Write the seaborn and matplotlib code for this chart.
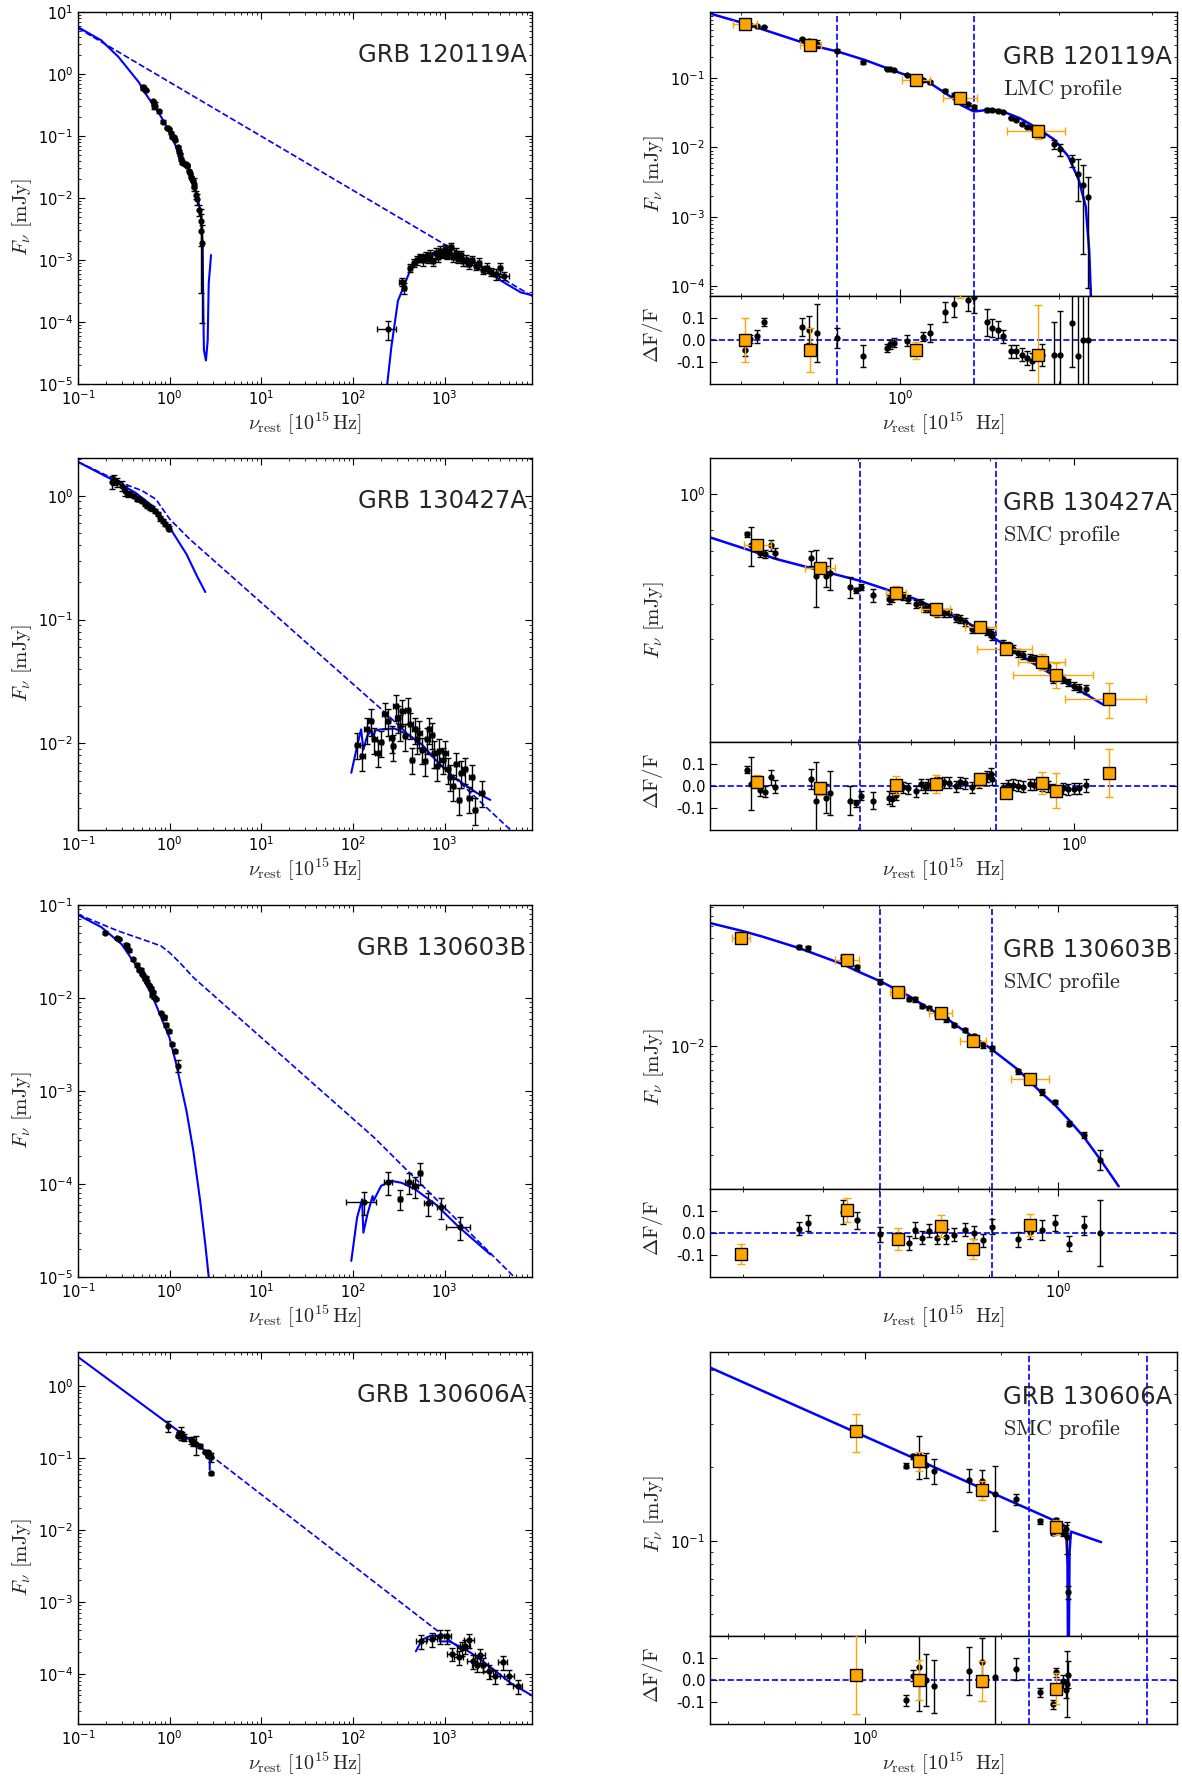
import numpy as np
import matplotlib
matplotlib.use("Agg")
import matplotlib.pyplot as plt
from matplotlib.ticker import LogLocator, NullFormatter, FormatStrFormatter
import seaborn as sns

sns.set_style("ticks")
plt.rcParams.update({
    "font.family": ["DejaVu Sans"],
    "mathtext.fontset": "cm",
    "axes.edgecolor": "k",
    "axes.linewidth": 1.0,
    "xtick.direction": "in", "ytick.direction": "in",
    "xtick.top": True, "ytick.right": True,
    "xtick.major.size": 5, "ytick.major.size": 5,
    "xtick.minor.size": 2.5, "ytick.minor.size": 2.5,
    "xtick.color": "k", "ytick.color": "k",
    "xtick.labelsize": 10.5, "ytick.labelsize": 10.5,
})

BLUE = "#0000ff"

# ---------------- GRB 120119A ----------------
r1_x = [0.509, 0.519, 0.536, 0.553, 0.652, 0.673, 0.697, 0.760, 0.852, 0.943, 0.958, 0.972,
        1.032, 1.105, 1.139, 1.219, 1.266, 1.345, 1.380, 1.462, 1.495, 1.530, 1.565, 1.624,
        1.662, 1.700, 1.739, 1.779, 1.862, 1.962, 2.007, 2.116, 2.175, 2.224, 2.273]
r1_y = [0.6, 0.59, 0.56, 0.55, 0.366, 0.339, 0.31, 0.25, 0.17, 0.136, 0.135, 0.13,
        0.112, 0.095, 0.087, 0.066, 0.057, 0.042, 0.038, 0.035, 0.035, 0.034, 0.033, 0.027,
        0.025, 0.022, 0.02, 0.019, 0.015, 0.0112, 0.0095, 0.0065, 0.0042, 0.0029, 0.0019]
r1_err = [0.03, 0.02, 0.03, 0.02, 0.04, 0.06, 0.13, 0.045, 0.05, 0.02, 0.02, 0.02,
          0.025, 0.02, 0.04, 0.045, 0.06, 0.05, 0.07, 0.06, 0.04, 0.04, 0.03, 0.03,
          0.03, 0.03, 0.03, 0.04, 0.05, 0.15, 0.2, 0.2, 0.6, 0.9, 0.95]
r1_res = [-0.044, 0.005, 0.017, 0.082, 0.06, 0.047, 0.032, 0.01, -0.074, -0.036, -0.02, -0.013,
          -0.003, 0.015, 0.032, 0.127, 0.165, 0.18, 0.195, 0.08, 0.055, 0.047, 0.017, -0.052,
          -0.052, -0.067, -0.082, -0.097, -0.07, -0.067, -0.067, 0.077, -0.074, 0.0, 0.0]
r1_ox = [0.509, 0.676, 1.072, 1.301, 1.825]
r1_oxlo = [0.482, 0.647, 1.010, 1.206, 1.596]
r1_oxhi = [0.536, 0.708, 1.139, 1.397, 2.053]
r1_oy = [0.61, 0.30, 0.095, 0.051, 0.017]
r1_oerr = [0.1, 0.1, 0.04, 0.06, 0.23]
r1_ores = [0.0, -0.044, -0.047, 0.25, -0.07]
r1_mx = [0.437, 0.509, 0.676, 0.760, 0.855, 1.002, 1.139, 1.247, 1.304, 1.380, 1.473,
         1.565, 1.687, 1.820, 1.962, 2.085, 2.182, 2.249, 2.283, 2.300]
r1_my = [0.85, 0.61, 0.30, 0.243, 0.184, 0.118, 0.085, 0.054, 0.041, 0.033, 0.035,
         0.033, 0.0264, 0.019, 0.0129, 0.0074, 0.0034, 0.0014, 3.3e-4, 7.2e-5]
r1_vlines = [0.760, 1.380]

l1_optx = [0.1, 0.179, 0.275, 0.46, 0.546, 0.77, 1.0, 1.18, 1.34, 1.53, 1.74, 1.98, 2.19,
           2.29, 2.35, 2.37, 2.49, 2.6, 2.67, 2.83]
l1_opty = [5.7, 3.5, 1.9, 0.74, 0.48, 0.23, 0.116, 0.066, 0.034, 0.033, 0.022, 0.0117,
           0.0056, 0.0018, 6.4e-5, 3.5e-5, 2.4e-5, 5e-5, 4.2e-4, 1.2e-3]
l1_dashx = [0.1, 10000]
l1_dashy = [5.5, 2.4e-4]
l1_xmx = [237, 263, 310, 355, 436, 565, 795, 1120, 2230, 4070, 6800, 10000]
l1_xmy = [1e-5, 4e-5, 2.2e-4, 3.6e-4, 7.7e-4, 1.05e-3, 1.35e-3, 1.25e-3, 8.7e-4, 4.7e-4, 3e-4, 2.6e-4]
l1_xx = [240, 345, 360, 420, 460, 500, 540, 580, 620, 660, 700, 750, 800, 850, 900, 950, 1000,
         1060, 1120, 1180, 1250, 1320, 1400, 1500, 1600, 1700, 1850, 2000, 2200, 2400, 2650,
         2900, 3200, 3600, 4000, 4500]
l1_xy = [7.8e-5, 4.4e-4, 3.6e-4, 7.5e-4, 9e-4, 1.0e-3, 1.1e-3, 1.0e-3, 1.15e-3, 1.05e-3, 1.2e-3,
         9.5e-4, 1.3e-3, 1.1e-3, 1.4e-3, 1.25e-3, 1.5e-3, 1.2e-3, 1.35e-3, 1.6e-3, 1.1e-3, 1.3e-3,
         1.05e-3, 1.2e-3, 9.5e-4, 1.0e-3, 8.5e-4, 1.0e-3, 8e-4, 9e-4, 7e-4, 7.5e-4, 6.5e-4, 6e-4,
         7.5e-4, 5.5e-4]
l1_xyrel = [0.35, 0.15, 0.2, 0.15, 0.15, 0.18, 0.15, 0.2, 0.15, 0.15, 0.2, 0.15, 0.18, 0.15,
            0.2, 0.15, 0.18, 0.15, 0.2, 0.18, 0.15, 0.2, 0.15, 0.18, 0.15, 0.2, 0.15, 0.18,
            0.15, 0.2, 0.15, 0.18, 0.15, 0.2, 0.2, 0.15]
l1_xxrel = [0.23, 0.08, 0.05, 0.05, 0.05, 0.05, 0.05, 0.05, 0.05, 0.05, 0.05, 0.05, 0.05, 0.05,
            0.05, 0.05, 0.05, 0.05, 0.05, 0.05, 0.05, 0.05, 0.05, 0.05, 0.05, 0.05, 0.05, 0.05,
            0.05, 0.05, 0.05, 0.05, 0.05, 0.05, 0.05, 0.12]

# ---------------- GRB 130427A ----------------
r2_x = [0.2489, 0.2534, 0.2635, 0.2689, 0.2759, 0.2808, 0.3272, 0.3337, 0.3478, 0.3542, 0.3856,
        0.3953, 0.405, 0.4255, 0.4558, 0.4612, 0.4687, 0.4828, 0.4931, 0.5117, 0.521, 0.5308,
        0.5388, 0.5588, 0.5755, 0.5884, 0.6059, 0.615, 0.6286, 0.6474, 0.6668, 0.6916, 0.7019,
        0.7071, 0.7389, 0.7556, 0.7723, 0.7896, 0.8049, 0.8312, 0.8435, 0.8752, 0.8949, 0.9148,
        0.9558, 0.9774, 0.999, 1.0212, 1.0518]
r2_y = [0.776, 0.724, 0.691, 0.684, 0.724, 0.69, 0.667, 0.596, 0.596, 0.606, 0.556, 0.544,
        0.556, 0.528, 0.514, 0.52, 0.527, 0.525, 0.514, 0.498, 0.503, 0.488, 0.4856,
        0.4724, 0.4724, 0.4704, 0.4576, 0.4529, 0.4452, 0.4249, 0.4295, 0.4205, 0.4161, 0.4074,
        0.3865, 0.3824, 0.3744, 0.3666, 0.3606, 0.3552, 0.3515, 0.3405, 0.337, 0.311, 0.3097,
        0.3034, 0.297, 0.2937, 0.2906]
r2_err = [0.016, 0.12, 0.025, 0.025, 0.035, 0.03, 0.045, 0.18, 0.065, 0.1, 0.065, 0.015,
          0.02, 0.04, 0.03, 0.03, 0.025, 0.025, 0.025, 0.025, 0.025, 0.025, 0.025,
          0.025, 0.025, 0.025, 0.025, 0.025, 0.025, 0.025, 0.025, 0.025, 0.025, 0.025,
          0.025, 0.025, 0.025, 0.025, 0.025, 0.025, 0.025, 0.025, 0.025, 0.025, 0.025,
          0.025, 0.025, 0.025, 0.03]
r2_res = [0.073, 0.01, -0.02, -0.025, 0.04, -0.003, 0.032, -0.07, -0.056, -0.032, -0.067, -0.079,
          -0.044, -0.066, -0.053, -0.06, -0.04, -0.005, -0.01, -0.024, 0.008, -0.005, 0.005,
          0.015, 0.018, 0.015, -0.002, 0.018, 0.012, -0.006, 0.018, 0.045, 0.055, 0.03,
          -0.01, 0.003, 0.005, 0.002, -0.004, 0.008, 0.005, 0.002, 0.0, -0.015, -0.01,
          -0.015, -0.012, -0.01, 0.003]
r2_ox = [0.2594, 0.34, 0.4685, 0.5574, 0.6717, 0.75, 0.8752, 0.9284, 1.161]
r2_oxlo = [0.2454, 0.3187, 0.4497, 0.523, 0.6286, 0.6618, 0.7895, 0.7722, 0.963]
r2_oxhi = [0.2759, 0.3621, 0.4896, 0.5901, 0.7177, 0.8373, 0.963, 1.0832, 1.3608]
r2_oy = [0.724, 0.6256, 0.5364, 0.4826, 0.4323, 0.376, 0.3455, 0.3176, 0.2728]
r2_oerr = [0.03, 0.03, 0.04, 0.04, 0.03, 0.025, 0.05, 0.08, 0.11]
r2_ores = [0.02, -0.01, 0.005, 0.008, 0.03, -0.03, 0.015, -0.022, 0.058]
r2_mx = [0.2138, 0.284, 0.405, 0.5119, 0.6372, 0.7182, 0.8564, 0.9914, 1.1318]
r2_my = [0.76, 0.662, 0.577, 0.514, 0.443, 0.399, 0.337, 0.297, 0.264]
r2_vlines = [0.403, 0.717]

l2_datx = [0.2358, 0.2482, 0.2636, 0.3049, 0.3266, 0.3498, 0.3713, 0.4047, 0.4408, 0.468,
           0.501, 0.537, 0.570, 0.605, 0.648, 0.689, 0.7376, 0.7832, 0.8389, 0.8906, 0.954, 0.9956]
l2_daty = [1.298, 1.347, 1.282, 1.205, 1.097, 1.032, 1.032, 1.0, 0.94, 0.94,
           0.911, 0.856, 0.83, 0.805, 0.79, 0.756, 0.711, 0.656, 0.628, 0.59, 0.565, 0.544]
l2_daterr = [0.12, 0.1, 0.08, 0.1, 0.1, 0.05, 0.04, 0.04, 0.04, 0.04,
             0.04, 0.04, 0.04, 0.04, 0.04, 0.04, 0.04, 0.04, 0.04, 0.04, 0.04, 0.04]
l2_optx = [0.1, 0.232, 0.423, 0.648, 1.0, 1.53, 1.98, 2.45]
l2_opty = [1.88, 1.36, 1.06, 0.83, 0.555, 0.337, 0.226, 0.167]
l2_dashx = [0.1, 0.327, 0.5, 0.706, 1.0, 1.66, 203, 5250]
l2_dashy = [1.88, 1.24, 1.1, 0.94, 0.65, 0.446, 0.019, 0.002]
l2_xmx = [96, 106, 118, 123, 130, 143, 160, 165, 175, 203, 285, 403, 567, 795, 1230, 2230, 3157]
l2_xmy = [0.0058, 0.0081, 0.0115, 0.013, 0.0089, 0.0115, 0.0128, 0.0112, 0.0127, 0.013, 0.0132,
          0.0118, 0.0098, 0.0074, 0.0054, 0.004, 0.0035]
l2_xx = [112, 127, 142, 157, 172, 187, 200, 222, 242, 264, 275, 292, 308, 327, 347, 371, 398,
         423, 441, 472, 501, 532, 570, 611, 649, 677, 725, 770, 817, 875, 954, 1021, 1085, 1152,
         1233, 1343, 1439, 1528, 1666, 1862, 1978, 2155, 2559]
l2_xy = [0.0098, 0.0079, 0.013, 0.0152, 0.0108, 0.00845, 0.0102, 0.0172, 0.0152, 0.0111,
         0.0095, 0.020, 0.0161, 0.0138, 0.0182, 0.0115, 0.0188, 0.0143, 0.0074, 0.013,
         0.0108, 0.0122, 0.0089, 0.0072, 0.0108, 0.013, 0.0118, 0.0084, 0.0066, 0.0087,
         0.0074, 0.0084, 0.0062, 0.0054, 0.0045, 0.0068, 0.0035, 0.0058, 0.0062, 0.0036,
         0.0054, 0.0029, 0.004]
l2_xyrel = 0.24
l2_xxrel = 0.06

# ---------------- GRB 130603B ----------------
r3_x = [0.2655, 0.2781, 0.3335, 0.3576, 0.4026, 0.4662, 0.4821, 0.4976, 0.5156, 0.5386, 0.5631,
        0.5883, 0.6205, 0.6507, 0.6812, 0.7141, 0.8129, 0.8644, 0.9182, 0.9818, 1.0571, 1.1409,
        1.2385]
r3_y = [0.0442, 0.0431, 0.0371, 0.0325, 0.0262, 0.0202, 0.0202, 0.0183, 0.0178, 0.0162, 0.015,
        0.0138, 0.0127, 0.0116, 0.01015, 0.00975, 0.0069, 0.0062, 0.0051, 0.00438, 0.00317,
        0.00267, 0.00186]
r3_err = [0.03, 0.035, 0.055, 0.04, 0.035, 0.03, 0.035, 0.03, 0.03, 0.03, 0.035, 0.03,
          0.03, 0.03, 0.03, 0.035, 0.035, 0.03, 0.045, 0.035, 0.035, 0.045, 0.15]
r3_res = [0.02, 0.045, 0.094, 0.057, -0.006, -0.045, 0.014, -0.022, 0.011, -0.022, -0.017, -0.008,
          0.015, 0.002, -0.034, 0.029, -0.029, 0.003, 0.012, 0.046, -0.049, 0.034, -0.002]
r3_ox = [0.1978, 0.3406, 0.4399, 0.5483, 0.6482, 0.8644]
r3_oxlo = [0.1886, 0.3201, 0.4223, 0.5173, 0.6063, 0.7833]
r3_oxhi = [0.207, 0.3622, 0.4573, 0.5812, 0.6897, 0.9511]
r3_oy = [0.0505, 0.0362, 0.0224, 0.0164, 0.01077, 0.00618]
r3_oerr = [0.045, 0.055, 0.05, 0.05, 0.045, 0.05]
r3_ores = [-0.097, 0.103, -0.025, 0.032, -0.074, 0.037]
r3_mx = [0.1696, 0.1978, 0.2194, 0.2655, 0.2781, 0.3335, 0.3576, 0.4026, 0.4662, 0.5156, 0.5631,
         0.6205, 0.6812, 0.7141, 0.8129, 0.9182, 0.9818, 1.0571, 1.1409, 1.2385, 1.3603]
r3_my = [0.0625, 0.056, 0.0515, 0.0433, 0.0412, 0.0339, 0.0307, 0.0264, 0.0212, 0.0176, 0.0153,
         0.0125, 0.0105, 0.0095, 0.0071, 0.0050, 0.0042, 0.00333, 0.00258, 0.00186, 0.00125]
r3_vlines = [0.4015, 0.7141]

l3_optx = [0.1, 0.179, 0.2998, 0.4223, 0.648, 0.9956, 1.182, 1.528, 1.815, 2.154, 2.45, 2.67]
l3_opty = [0.078, 0.058, 0.0378, 0.023, 0.0105, 0.00375, 0.00194, 6.1e-4, 2.26e-4, 6.57e-5,
           2.24e-5, 1e-5]
l3_dashx = [0.1, 0.275, 0.598, 0.807, 1.0, 1.29, 1.82, 171, 5760]
l3_dashy = [0.0794, 0.0525, 0.0403, 0.0362, 0.0307, 0.024, 0.0166, 3.15e-4, 1e-5]
l3_xmx = [96, 111, 126, 130, 144, 164, 168, 203, 262, 340, 478, 800, 1459, 3157]
l3_xmy = [1.49e-5, 4.35e-5, 6.85e-5, 3.0e-5, 4.72e-5, 7.43e-5, 6.6e-5, 9.55e-5, 1.08e-4,
          1.03e-4, 8.77e-5, 6.04e-5, 3.39e-5, 1.75e-5]
l3_xx = [132, 241, 325, 413, 478, 544, 662, 910, 1459]
l3_xy = [6.45e-5, 1.05e-4, 6.95e-5, 1.05e-4, 9.5e-5, 1.32e-4, 6.3e-5, 5.66e-5, 3.45e-5]
l3_xyrel = [0.28, 0.27, 0.25, 0.25, 0.25, 0.27, 0.28, 0.25, 0.28]
l3_xxrel = [0.37, 0.1, 0.05, 0.1, 0.08, 0.05, 0.1, 0.1, 0.29]

# ---------------- GRB 130606A ----------------
r4_x = [1.230, 1.274, 1.316, 1.367, 1.417, 1.694, 1.811, 1.936, 2.151, 2.428, 2.597, 2.642,
        2.737, 2.770, 2.794, 2.810]
r4_y = [0.203, 0.222, 0.224, 0.205, 0.1938, 0.178, 0.1752, 0.156, 0.148, 0.12, 0.1075, 0.122,
        0.108, 0.112, 0.104, 0.0614]
r4_err = [0.025, 0.025, 0.2, 0.12, 0.12, 0.11, 0.11, 0.3, 0.05, 0.02, 0.02, 0.02,
          0.03, 0.04, 0.15, 0.06]
r4_res = [-0.092, 0.02, 0.06, 0.0, -0.028, 0.04, 0.08, 0.015, 0.052, -0.055, -0.11, 0.035,
          -0.006, -0.044, -0.02, 0.025]
r4_ox = [0.957, 1.316, 1.811, 2.642]
r4_oy = [0.281, 0.2116, 0.162, 0.1138]
r4_oerr = [0.18, 0.09, 0.09, 0.07]
r4_ores = [0.025, 0.0, -0.005, -0.04]
r4_mx = [0.4565, 2.670, 2.743, 2.780, 2.798, 2.806, 2.814, 2.827, 2.848, 3.319]
r4_my = [0.512, 0.119, 0.116, 0.110, 0.08, 0.03, 0.03, 0.09, 0.109, 0.0987]
r4_vlines = [2.303, 4.188]

l4_optx = [0.1, 2.70, 2.74, 2.74]
l4_opty = [2.56, 0.115, 0.112, 0.069]
l4_dashx = [2.74, 950, 1580]
l4_dashy = [0.112, 3.49e-4, 2.1e-4]
l4_xmx = [486, 567, 703, 871, 890, 1127, 1589, 2239, 3436, 5284, 10000]
l4_xmy = [2.05e-4, 2.97e-4, 3.38e-4, 3.38e-4, 2.82e-4, 2.82e-4, 2.28e-4, 1.74e-4, 1.14e-4,
          7.4e-5, 4.6e-5]
l4_xx = [558, 735, 887, 1052, 1208, 1433, 1562, 1673, 1854, 2020, 2239, 2439, 2659, 3022, 3589,
         4300, 5058, 6266]
l4_xy = [2.82e-4, 3.07e-4, 3.38e-4, 3.31e-4, 1.9e-4, 1.71e-4, 2.28e-4, 2.4e-4, 2.97e-4, 1.49e-4,
         1.34e-4, 1.8e-4, 1.34e-4, 1.1e-4, 9.2e-5, 1.44e-4, 9.2e-5, 6.8e-5]
l4_xyrel = 0.22
l4_xxrel = 0.12

grb_names = ["GRB 120119A", "GRB 130427A", "GRB 130603B", "GRB 130606A"]
profiles = ["LMC", "SMC", "SMC", "SMC"]
left_xlim = (0.1, 9000)
left_ylims = [(1e-5, 10), (2e-3, 2.02), (1e-5, 0.1), (2e-5, 3.0)]
right_xlims = [(0.436, 3.35), (0.2128, 1.551), (0.1689, 1.832), (0.4554, 4.879)]
right_ylims = [(7.2e-5, 0.9), (0.208, 1.26), (1.2e-3, 0.082), (0.0407, 0.594)]

# ---------------- layout ----------------
W, H = 1182, 1782
fig = plt.figure(figsize=(W / 100, H / 100), dpi=100)
row_tops = [12, 458, 905, 1352]
LX0, LW = 78, 454
RX0, RW = 710, 467

FLAB = r"$F_\nu\ [\mathrm{mJy}]$"
XLAB_L = r"$\nu_{\mathrm{rest}}\ [10^{15}\,\mathrm{Hz}]$"
XLAB_R = r"$\nu_{\mathrm{rest}}\ [10^{15}\ \ \mathrm{Hz}]$"


def log_ticks(axis):
    axis.set_major_locator(LogLocator(base=10, numticks=20))
    axis.set_minor_locator(LogLocator(base=10, subs=np.arange(2, 10), numticks=20))
    axis.set_minor_formatter(NullFormatter())


def model(ax, x, y, ls="-", lw=1.5):
    sns.lineplot(x=x, y=y, ax=ax, color=BLUE, lw=lw, linestyle=ls, sort=False, estimator=None)


def black_pts(ax, x, y, rel, xrel=None):
    y = np.asarray(y)
    xerr = None
    if xrel is not None:
        xerr = np.asarray(x) * np.asarray(xrel)
    ax.errorbar(x, y, yerr=y * np.asarray(rel), xerr=xerr, fmt="o", color="k", ms=3.5,
                capsize=2.5, elinewidth=1, capthick=1, zorder=4)


def orange_pts(ax, x, y, yerr, xlo=None, xhi=None):
    xerr = None
    if xlo is not None:
        xerr = [np.asarray(x) - np.asarray(xlo), np.asarray(xhi) - np.asarray(x)]
    ax.errorbar(x, y, yerr=yerr, xerr=xerr, fmt="s", mfc="orange", mec="k", mew=1, ms=8,
                ecolor="orange", capsize=3, elinewidth=1, capthick=1, zorder=6)


left = {
    0: dict(opt=(l1_optx, l1_opty), dash=(l1_dashx, l1_dashy), xm=(l1_xmx, l1_xmy),
            dat=[(r1_x, r1_y, r1_err), (r1_ox, r1_oy, r1_oerr)],
            xray=(l1_xx, l1_xy, l1_xyrel, l1_xxrel)),
    1: dict(opt=(l2_optx, l2_opty), dash=(l2_dashx, l2_dashy), xm=(l2_xmx, l2_xmy),
            dat=[(l2_datx, l2_daty, l2_daterr)],
            xray=(l2_xx, l2_xy, l2_xyrel, l2_xxrel)),
    2: dict(opt=(l3_optx, l3_opty), dash=(l3_dashx, l3_dashy), xm=(l3_xmx, l3_xmy),
            dat=[(r3_x, r3_y, r3_err), (r3_ox, r3_oy, r3_oerr)],
            xray=(l3_xx, l3_xy, l3_xyrel, l3_xxrel)),
    3: dict(opt=(l4_optx, l4_opty), dash=(l4_dashx, l4_dashy), xm=(l4_xmx, l4_xmy),
            dat=[(r4_x, r4_y, r4_err), (r4_ox, r4_oy, r4_oerr)],
            xray=(l4_xx, l4_xy, l4_xyrel, l4_xxrel)),
}

right = {
    0: (r1_x, r1_y, r1_err, r1_res, r1_ox, r1_oxlo, r1_oxhi, r1_oy, r1_oerr, r1_ores,
        r1_mx, r1_my, r1_vlines),
    1: (r2_x, r2_y, r2_err, r2_res, r2_ox, r2_oxlo, r2_oxhi, r2_oy, r2_oerr, r2_ores,
        r2_mx, r2_my, r2_vlines),
    2: (r3_x, r3_y, r3_err, r3_res, r3_ox, r3_oxlo, r3_oxhi, r3_oy, r3_oerr, r3_ores,
        r3_mx, r3_my, r3_vlines),
    3: (r4_x, r4_y, r4_err, r4_res, r4_ox, None, None, r4_oy, r4_oerr, r4_ores,
        r4_mx, r4_my, r4_vlines),
}

for i in range(4):
    top = row_tops[i]

    # left: full SED
    ax = fig.add_axes([LX0 / W, 1 - (top + 372) / H, LW / W, 372 / H])
    ax.set_xscale("log")
    ax.set_yscale("log")
    p = left[i]
    model(ax, *p["dash"], ls="--", lw=1.2)
    model(ax, *p["opt"])
    model(ax, *p["xm"])
    for d in p["dat"]:
        black_pts(ax, d[0], d[1], d[2])
    xx, xy, xyrel, xxrel = p["xray"]
    black_pts(ax, xx, xy, np.broadcast_to(xyrel, len(xx)), np.broadcast_to(xxrel, len(xx)))
    ax.set_xlim(*left_xlim)
    ax.set_ylim(*left_ylims[i])
    log_ticks(ax.xaxis)
    log_ticks(ax.yaxis)
    ax.set_ylabel(FLAB, fontsize=15)
    ax.yaxis.set_label_coords(-0.097, 0.45)
    ax.set_xlabel(XLAB_L, fontsize=14.5, labelpad=2)
    ax.text(0.988, 0.884, grb_names[i], transform=ax.transAxes, ha="right", va="center",
            fontsize=17.5)

    # right: optical zoom + residuals
    (bx, by, berr, bres, ox, oxlo, oxhi, oy, oerr, ores, mx, my, vl) = right[i]
    axm = fig.add_axes([RX0 / W, 1 - (top + 284) / H, RW / W, 284 / H])
    axr = fig.add_axes([RX0 / W, 1 - (top + 372) / H, RW / W, 88 / H], sharex=axm)
    axm.set_xscale("log")
    axm.set_yscale("log")
    model(axm, mx, my, lw=1.8)
    black_pts(axm, bx, by, berr)
    orange_pts(axm, ox, oy, np.asarray(oy) * np.asarray(oerr), oxlo, oxhi)
    for v in vl:
        axm.axvline(v, color=BLUE, ls="--", lw=1.2)
        axr.axvline(v, color=BLUE, ls="--", lw=1.2)
    axm.set_xlim(*right_xlims[i])
    axm.set_ylim(*right_ylims[i])
    log_ticks(axm.xaxis)
    log_ticks(axm.yaxis)
    axm.tick_params(axis="x", which="both", labelbottom=False)
    axm.set_ylabel(FLAB, fontsize=15)
    axm.yaxis.set_label_coords(-0.094, 0.43)
    axm.text(0.99, 0.842, grb_names[i], transform=axm.transAxes, ha="right", va="center",
             fontsize=17.5)
    axm.text(0.627, 0.73, r"$\mathrm{" + profiles[i] + r"\ profile}$", transform=axm.transAxes,
             ha="left", va="center", fontsize=16)

    axr.axhline(0, color=BLUE, ls="--", lw=1.2)
    axr.errorbar(bx, bres, yerr=berr, fmt="o", color="k", ms=3.5, capsize=2.5,
                 elinewidth=1, capthick=1, zorder=4)
    axr.errorbar(ox, ores, yerr=oerr, fmt="s", mfc="orange", mec="k", mew=1, ms=8,
                 ecolor="orange", capsize=3, elinewidth=1, capthick=1, zorder=6)
    axr.set_ylim(-0.2, 0.2)
    axr.set_yticks([-0.1, 0.0, 0.1])
    axr.yaxis.set_major_formatter(FormatStrFormatter("%.1f"))
    axr.tick_params(axis="y", which="minor", left=False, right=False)
    log_ticks(axr.xaxis)
    axr.set_xlim(*right_xlims[i])
    axr.set_ylabel(r"$\Delta\mathrm{F/F}$", fontsize=15)
    axr.yaxis.set_label_coords(-0.096, 0.56)
    axr.set_xlabel(XLAB_R, fontsize=14.5, labelpad=2)

fig.savefig("out.png", dpi=100)
